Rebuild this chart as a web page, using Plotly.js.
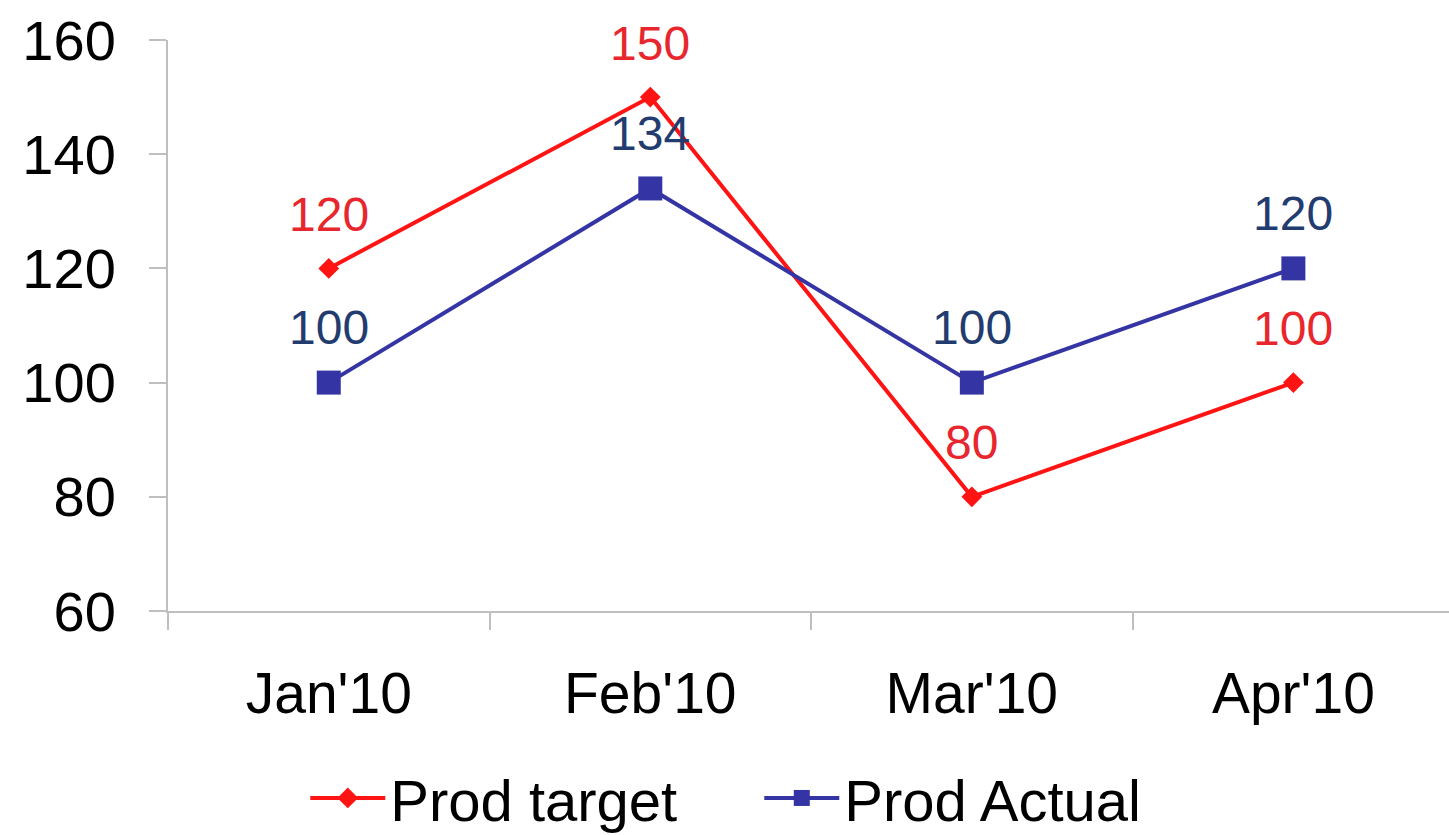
<!DOCTYPE html>
<html>
<head>
<meta charset="utf-8">
<script src="https://cdn.plot.ly/plotly-3.0.1.min.js"></script>
<style>html,body{margin:0;padding:0;background:#fff;}#chart{width:1449px;height:835px;}</style>
</head>
<body>
<div id="chart"></div>
<script>
const categories = ["Jan'10", "Feb'10", "Mar'10", "Apr'10"];
const prodTarget = [120, 150, 80, 100];
const prodActual = [100, 134, 100, 120];
const yTicks = [60, 80, 100, 120, 140, 160];

const redLine = '#ff1414';
const redText = '#e8262d';
const blueLine = '#3434a4';
const blueText = '#223c70';
const font = 'Liberation Sans, Arial, sans-serif';

const traces = [
  {
    x: categories, y: prodTarget, name: 'Prod target', type: 'scatter', mode: 'lines+markers',
    line: {color: redLine, width: 4},
    marker: {symbol: 'diamond', size: 16, color: redLine}
  },
  {
    x: categories, y: prodActual, name: 'Prod Actual', type: 'scatter', mode: 'lines+markers',
    line: {color: blueLine, width: 4},
    marker: {symbol: 'square', size: 24, color: blueLine}
  }
];

const annotations = [];
categories.forEach((c, i) => {
  annotations.push({x: c, y: prodTarget[i], text: String(prodTarget[i]), showarrow: false,
    yshift: 54, font: {family: font, size: 48, color: redText}});
  annotations.push({x: c, y: prodActual[i], text: String(prodActual[i]), showarrow: false,
    yshift: 55, font: {family: font, size: 48, color: blueText}});
});

const layout = {
  width: 1449, height: 835,
  margin: {l: 168, r: 0, t: 40, b: 224},
  paper_bgcolor: '#ffffff', plot_bgcolor: '#ffffff',
  font: {family: font, color: '#000000'},
  showlegend: true,
  legend: {
    orientation: 'h', xref: 'container', yref: 'container',
    x: 0.524, xanchor: 'center', y: 0.044, yanchor: 'middle',
    font: {family: font, size: 58, color: '#000'},
    itemwidth: 75, entrywidth: 364, entrywidthmode: 'pixels', tracegroupgap: 0
  },
  xaxis: {
    type: 'category', range: [-0.5, 3.484],
    showline: true, linecolor: '#bfbfbf', linewidth: 2,
    ticks: 'outside', tickson: 'boundaries', ticklen: 17, tickcolor: '#bfbfbf', tickwidth: 2,
    showgrid: false, zeroline: false,
    tickfont: {family: font, size: 57, color: '#000'},
    ticklabelstandoff: 32
  },
  yaxis: {
    range: [60, 160], tickvals: yTicks, ticktext: yTicks.map(String),
    showline: true, linecolor: '#bfbfbf', linewidth: 2,
    ticks: 'outside', ticklen: 17, tickcolor: '#bfbfbf', tickwidth: 2,
    showgrid: false, zeroline: false,
    tickfont: {family: font, size: 56, color: '#000'},
    ticklabelstandoff: 22
  },
  annotations: annotations
};

Plotly.newPlot('chart', traces, layout, {displayModeBar: false, staticPlot: true});
</script>
</body>
</html>
